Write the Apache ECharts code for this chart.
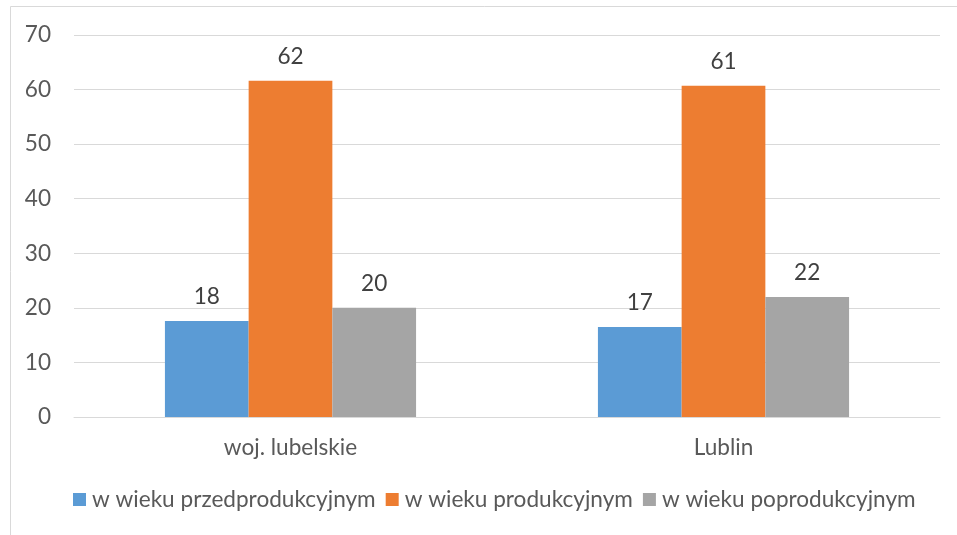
<!DOCTYPE html>
<html><head><meta charset="utf-8">
<script src="https://cdn.jsdelivr.net/npm/echarts@6/dist/echarts.min.js"></script>
<style>html,body{margin:0;padding:0;background:#fff}#c{width:957px;height:535px}</style>
</head><body><div id="c"></div>
<script>
var categories = ['woj. lubelskie', 'Lublin'];
var seriesNames = ['w wieku przedprodukcyjnym', 'w wieku produkcyjnym', 'w wieku poprodukcyjnym'];
var przed = [17.6, 16.5];
var prod = [61.6, 60.7];
var popr = [20.0, 22.0];
var yTicks = [0, 10, 20, 30, 40, 50, 60, 70];
var colors = ['#5B9BD5', '#ED7D31', '#A5A5A5'];
var FONT = 'Lato, "Noto Sans", sans-serif';
var TXT = '#595959';
var FS = 22.6;
var chart = echarts.init(document.getElementById('c'));
function mk(name, data, color) {
  return {
    name: name, type: 'bar', data: data, barGap: '0%', barCategoryGap: '42%',
    itemStyle: {color: color},
    label: {show: true, position: 'top', distance: 13, color: '#404040', fontFamily: FONT, fontSize: FS,
      formatter: function (p) { return Math.round(p.value); }}
  };
}
chart.setOption({
  animation: false,
  textStyle: {fontFamily: FONT},
  graphic: [{type: 'rect', shape: {x: 10.5, y: 6.5, width: 960, height: 540},
    style: {fill: 'none', stroke: '#d9d9d9', lineWidth: 1}, silent: true}],
  grid: {left: 74, right: 17, top: 35, bottom: 118, containLabel: false},
  legend: {
    data: seriesNames, bottom: 19, left: 68, itemWidth: 13, itemHeight: 13, itemGap: 10,
    icon: 'rect', textStyle: {color: TXT, fontSize: FS, fontFamily: FONT, padding: [0, 0, 0, 1]}
  },
  xAxis: {
    type: 'category', data: categories,
    axisLine: {lineStyle: {color: '#d9d9d9', width: 1}},
    axisTick: {show: false},
    axisLabel: {color: TXT, fontSize: FS, fontFamily: FONT, margin: 19}
  },
  yAxis: {
    type: 'value', min: yTicks[0], max: yTicks[yTicks.length - 1], interval: 10,
    axisLine: {show: false}, axisTick: {show: false},
    splitLine: {lineStyle: {color: '#d9d9d9', width: 1}},
    axisLabel: {color: TXT, fontSize: FS, fontFamily: FONT, margin: 23}
  },
  series: [mk(seriesNames[0], przed, colors[0]), mk(seriesNames[1], prod, colors[1]), mk(seriesNames[2], popr, colors[2])]
});
</script></body></html>
